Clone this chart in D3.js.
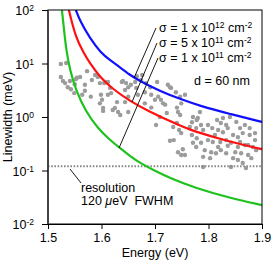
<!DOCTYPE html>
<html><head><meta charset="utf-8">
<script src="https://cdn.jsdelivr.net/npm/d3@7"></script>
<style>body{margin:0;background:#fff}svg{display:block}text{font-family:"Liberation Sans",Arial,Helvetica,sans-serif;fill:#000}</style>
</head><body>
<svg id="c" width="273" height="262"></svg>
<script>
// ---- data ----
const xTicks = [1.5, 1.6, 1.7, 1.8, 1.9];
const yTicks = [100, 10, 1, 0.1, 0.01];
const yTickExp = ["2", "1", "0", "-1", "-2"];
const resolution = 0.12; // meV

const blueE = [1.552,1.560,1.578,1.599,1.616,1.631,1.653,1.672,1.709,1.747,1.784,1.840,1.900];
const blueW = [100,62,30,15.7,11.6,9.0,6.1,4.7,3.06,2.17,1.61,1.14,0.81];
const redE = [1.539,1.552,1.567,1.578,1.597,1.621,1.653,1.691,1.728,1.765,1.816,1.859,1.900];
const redW = [100,30,15.7,10.2,5.6,3.34,1.99,1.24,0.84,0.57,0.405,0.31,0.25];
const greenE = [1.526,1.530,1.534,1.541,1.552,1.571,1.593,1.616,1.635,1.653,1.672,1.700,1.728,1.775,1.840,1.900];
const greenW = [100,42.3,17.9,7.6,3.2,1.24,0.62,0.37,0.26,0.187,0.138,0.098,0.072,0.047,0.0306,0.0226];

const scatterE = [1.524,1.534,1.573,1.524,1.528,1.532,1.537,1.543,1.550,1.560,1.554,1.549,1.564,1.569,1.569,1.588,1.597,1.593,1.608,1.616,1.580,1.599,1.612,1.618,1.597,1.603,1.625,1.629,1.552,1.541,1.582,
1.638,1.646,1.650,1.644,1.655,1.665,1.674,1.683,1.691,1.704,1.681,1.668,1.650,1.644,1.693,1.700,1.706,1.711,1.724,1.730,1.739,1.747,1.756,1.749,1.719,1.693,1.681,1.676,1.666,1.663,1.621,1.631,1.650,1.603,1.635,1.601,1.640,1.605,1.612,1.709,1.722,1.715,1.741,1.728,
1.702,1.728,1.735,1.743,1.749,1.734,1.741,1.745,1.749,1.743,1.747,1.771,1.778,1.765,1.816,1.827,1.840,1.769,1.780,1.786,1.777,1.790,1.823,1.833,1.818,1.827,1.836,1.859,1.864,1.855,1.877,1.887,
1.799,1.808,1.822,1.833,1.842,1.786,1.777,1.793,1.805,1.814,1.823,1.833,1.855,1.868,1.883,1.850,1.861,1.874,1.880,1.846,1.855,1.864,1.790,1.803,1.870,1.842,1.790,1.769,1.778,1.756,1.752,1.771,1.812,1.846,1.799,1.807,1.868,1.877,1.852,1.887,1.889,1.836,1.818,1.859,1.874,1.784];
const scatterW = [9.8,10.2,7.2,5.6,4.7,4.3,3.6,3.3,4.1,5.6,5.4,2.8,2.6,3.1,4.0,6.1,4.3,5.6,4.5,3.5,2.4,2.6,2.6,2.8,1.8,1.47,1.47,1.9,5.1,4.7,4.9,
4.5,4.3,3.6,3.2,4.0,3.5,4.9,4.3,3.6,4.5,2.9,2.6,2.4,1.9,2.6,2.1,2.4,2.1,4.0,3.5,2.9,2.4,2.6,1.8,1.7,1.5,1.8,6.1,5.8,4.5,1.35,1.24,1.24,1.3,1.09,2.1,4.7,4.3,4.5,1.0,1.19,1.8,1.5,3.6,
0.71,0.36,0.37,0.22,0.195,0.65,0.77,0.57,0.50,1.24,1.09,1.0,0.88,0.65,0.88,0.96,1.0,0.80,0.96,0.71,0.62,0.57,0.77,0.71,0.57,0.52,0.62,0.62,0.50,0.42,0.46,0.50,
0.37,0.34,0.34,0.37,0.33,0.33,0.275,0.24,0.22,0.21,0.24,0.21,0.275,0.30,0.275,0.22,0.21,0.195,0.17,0.17,0.157,0.138,0.18,0.17,0.111,0.116,0.116,0.46,0.40,0.195,0.25,0.33,0.46,0.46,0.71,0.62,0.71,0.62,0.81,0.37,0.24,0.29,0.275,0.34,0.30,1.24];

// ---- chart ----
const svg = d3.select("#c");
const L = 48, R = 262, T = 10, B = 224;
const FS = 12.5;
const x = d3.scaleLinear().domain([1.5, 1.9]).range([L, R]);
const y = d3.scaleLog().domain([0.01, 100]).range([B, T]);

svg.append("defs").append("clipPath").attr("id", "clip")
  .append("rect").attr("x", L).attr("y", T).attr("width", R - L).attr("height", B - T);

const plot = svg.append("g").attr("clip-path", "url(#clip)");

// scatter
plot.append("g").selectAll("circle").data(scatterE.map((e, i) => [e, scatterW[i]])).join("circle")
  .attr("cx", d => x(d[0])).attr("cy", d => y(d[1])).attr("r", 2.2).attr("fill", "#9c9c9c");

// resolution line
plot.append("line").attr("x1", L).attr("x2", R).attr("y1", y(resolution)).attr("y2", y(resolution))
  .attr("stroke", "#8a8a8a").attr("stroke-width", 1.8).attr("stroke-dasharray", "1.6,1.6");

// curves
const line = d3.line().x(d => x(d[0])).y(d => y(d[1])).curve(d3.curveBasis);
[[greenE, greenW, "#1dc21d"], [redE, redW, "#ff1010"], [blueE, blueW, "#1010ff"]].forEach(([E, W, c]) => {
  plot.append("path").attr("d", line(E.map((e, i) => [e, W[i]])))
    .attr("fill", "none").attr("stroke", c).attr("stroke-width", 2.2);
});

// frame
svg.append("rect").attr("x", L).attr("y", T).attr("width", R - L).attr("height", B - T)
  .attr("fill", "none").attr("stroke", "#000").attr("stroke-width", 1);
svg.append("line").attr("x1", L).attr("x2", L).attr("y1", T).attr("y2", B + 0.5)
  .attr("stroke", "#444").attr("stroke-width", 2);

// axes
const xAxis = d3.axisBottom(x).tickValues(xTicks).tickFormat(d3.format(".1f")).tickSize(5).tickPadding(4);
const gx = svg.append("g").attr("transform", `translate(0,${B})`).call(xAxis);
gx.select(".domain").attr("stroke", "#000");
gx.selectAll("text").attr("font-size", FS).attr("font-family", "Liberation Sans, Arial, sans-serif");

const yAxis = d3.axisLeft(y).tickValues(yTicks).tickFormat("").tickSize(6);
const gy = svg.append("g").attr("transform", `translate(${L},0)`).call(yAxis);
gy.select(".domain").remove();
gy.selectAll(".tick").each(function (d, i) {
  const t = d3.select(this).append("text").attr("x", -14).attr("dy", "0.38em")
    .attr("text-anchor", "end").attr("font-size", FS).attr("fill", "#000");
  t.append("tspan").text("10");
  t.append("tspan").attr("dy", "-0.45em").attr("font-size", 8.5).text(yTickExp[i]);
});

// axis titles
svg.append("text").attr("x", 155).attr("y", 257).attr("text-anchor", "middle")
  .attr("font-size", FS).text("Energy (eV)");
svg.append("text").attr("transform", `translate(11.5,${(T + B) / 2}) rotate(-90)`).attr("text-anchor", "middle")
  .attr("font-size", FS).text("Linewidth (meV)");

// sigma labels
function sigmaLabel(yy, mant, exp) {
  const t = svg.append("text").attr("x", 159).attr("y", yy).attr("font-size", FS);
  t.append("tspan").text(`σ = ${mant} x 10`);
  t.append("tspan").attr("dy", -4.5).attr("font-size", 8.5).text(exp);
  t.append("tspan").attr("dy", 4.5).text(" cm");
  t.append("tspan").attr("dy", -4.5).attr("font-size", 8.5).text("-2");
}
sigmaLabel(32, "1", "12");
sigmaLabel(47, "5", "11");
sigmaLabel(62, "1", "11");
svg.append("text").attr("x", 194).attr("y", 85).attr("font-size", FS).text("d = 60 nm");

// leader lines
const leaders = [[156, 28, 134, 78], [157, 43, 132, 102], [158, 58, 119, 148], [70, 169, 81, 183]];
svg.append("g").selectAll("line").data(leaders).join("line")
  .attr("x1", d => d[0]).attr("y1", d => d[1]).attr("x2", d => d[2]).attr("y2", d => d[3])
  .attr("stroke", "#000").attr("stroke-width", 0.9);

svg.append("text").attr("x", 81).attr("y", 192).attr("font-size", FS).text("resolution");
const rt = svg.append("text").attr("x", 81).attr("y", 205).attr("font-size", FS).attr("xml:space", "preserve");
rt.append("tspan").text("120 ");
rt.append("tspan").attr("font-style", "italic").text("μ");
rt.append("tspan").text("eV\u00a0\u00a0FWHM");
</script>
</body></html>
